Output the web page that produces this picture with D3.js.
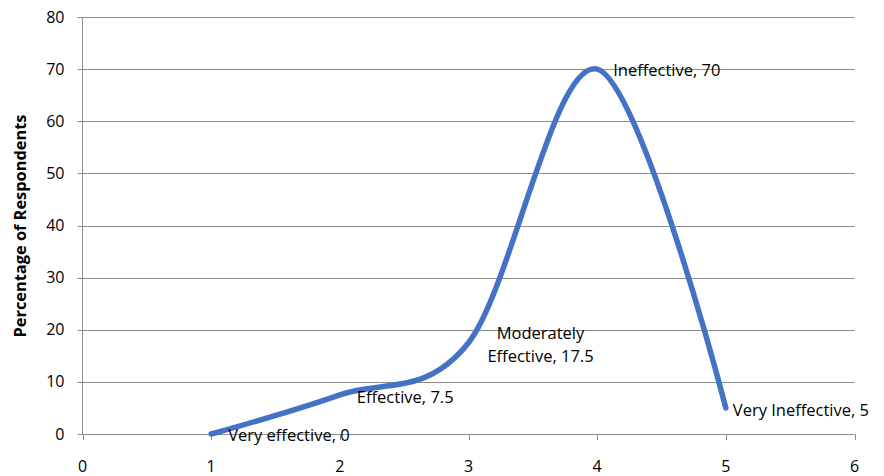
<!DOCTYPE html>
<html><head><meta charset="utf-8">
<script src="https://cdn.jsdelivr.net/npm/d3@7"></script>
<style>body{margin:0;background:#fff;} text{font-family:"Open Sans","Noto Sans",sans-serif;}</style>
</head><body>
<svg id="c" width="884" height="476"></svg>
<script>
const xValues = [1, 2, 3, 4, 5];
const yValues = [0, 7.5, 17.5, 70, 5];
const categories = ["Very effective", "Effective", "Moderately Effective", "Ineffective", "Very Ineffective"];
const xTicks = [0, 1, 2, 3, 4, 5, 6];
const yTicks = [0, 10, 20, 30, 40, 50, 60, 70, 80];
const yTitle = "Percentage of Respondents";

const svg = d3.select("#c");
const L = 82.5, R = 854.5, T = 17, B = 434;
const x = d3.scaleLinear().domain([0, 6]).range([L, R]);
const y = d3.scaleLinear().domain([0, 80]).range([B, T]);

// gridlines
svg.append("g").selectAll("line").data(yTicks).join("line")
  .attr("x1", L - 5).attr("x2", R)
  .attr("y1", d => Math.round(y(d)) + 0.5).attr("y2", d => Math.round(y(d)) + 0.5)
  .attr("stroke", "#8c8c8c").attr("stroke-width", 1);
// y axis line
svg.append("line").attr("x1", L).attr("x2", L).attr("y1", T).attr("y2", B + 0.5)
  .attr("stroke", "#8c8c8c");
// x ticks
svg.append("g").selectAll("line").data(xTicks).join("line")
  .attr("x1", d => Math.round(x(d)) + 0.5).attr("x2", d => Math.round(x(d)) + 0.5)
  .attr("y1", B).attr("y2", B + 6).attr("stroke", "#8c8c8c");

// tick labels
svg.append("g").selectAll("text").data(yTicks).join("text")
  .attr("x", L - 18).attr("y", d => y(d)).attr("dy", "0.35em")
  .attr("text-anchor", "end").attr("font-size", 16).attr("fill", "#000").text(d => d);
svg.append("g").selectAll("text").data(xTicks).join("text")
  .attr("x", d => x(d)).attr("y", B + 32).attr("dy", "0.35em")
  .attr("text-anchor", "middle").attr("font-size", 16).attr("fill", "#000").text(d => d);

svg.append("text").attr("transform", `translate(26,226) rotate(-90)`)
  .attr("text-anchor", "middle").attr("font-size", 15.5).attr("font-weight", "bold")
  .attr("textLength", 223).attr("lengthAdjust", "spacingAndGlyphs").text(yTitle);

const pts = xValues.map((v, i) => [v, yValues[i]]);
const line = d3.line().x(d => x(d[0])).y(d => y(d[1])).curve(d3.curveCardinal.tension(0));
svg.append("path").attr("d", line(pts)).attr("fill", "none")
  .attr("stroke", "#4472C4").attr("stroke-width", 5.5).attr("stroke-linecap", "round");

// data labels
const lab = svg.append("g").attr("font-size", 16.5).attr("fill", "#000");
pts.forEach((p, i) => {
  const px = x(p[0]), py = y(p[1]);
  const txt = categories[i] + ", " + p[1];
  if (i === 2) {
    const t = lab.append("text").attr("text-anchor", "middle");
    t.append("tspan").attr("x", px + 72).attr("y", py - 10).attr("dy", "0.35em").text("Moderately");
    t.append("tspan").attr("x", px + 72).attr("y", py + 13).attr("dy", "0.35em").text("Effective, " + p[1]);
  } else if (i === 1) {
    lab.append("text").attr("x", px + 17).attr("y", py + 2).attr("dy", "0.35em").text(txt);
  } else if (i === 0) {
    lab.append("text").attr("x", px + 17).attr("y", py + 1).attr("dy", "0.35em").text(txt);
  } else if (i === 3) {
    lab.append("text").attr("x", px + 16).attr("y", py + 1).attr("dy", "0.35em").text(txt);
  } else {
    lab.append("text").attr("x", px + 7).attr("y", py + 2).attr("dy", "0.35em").text(txt);
  }
});
</script>
</body></html>
